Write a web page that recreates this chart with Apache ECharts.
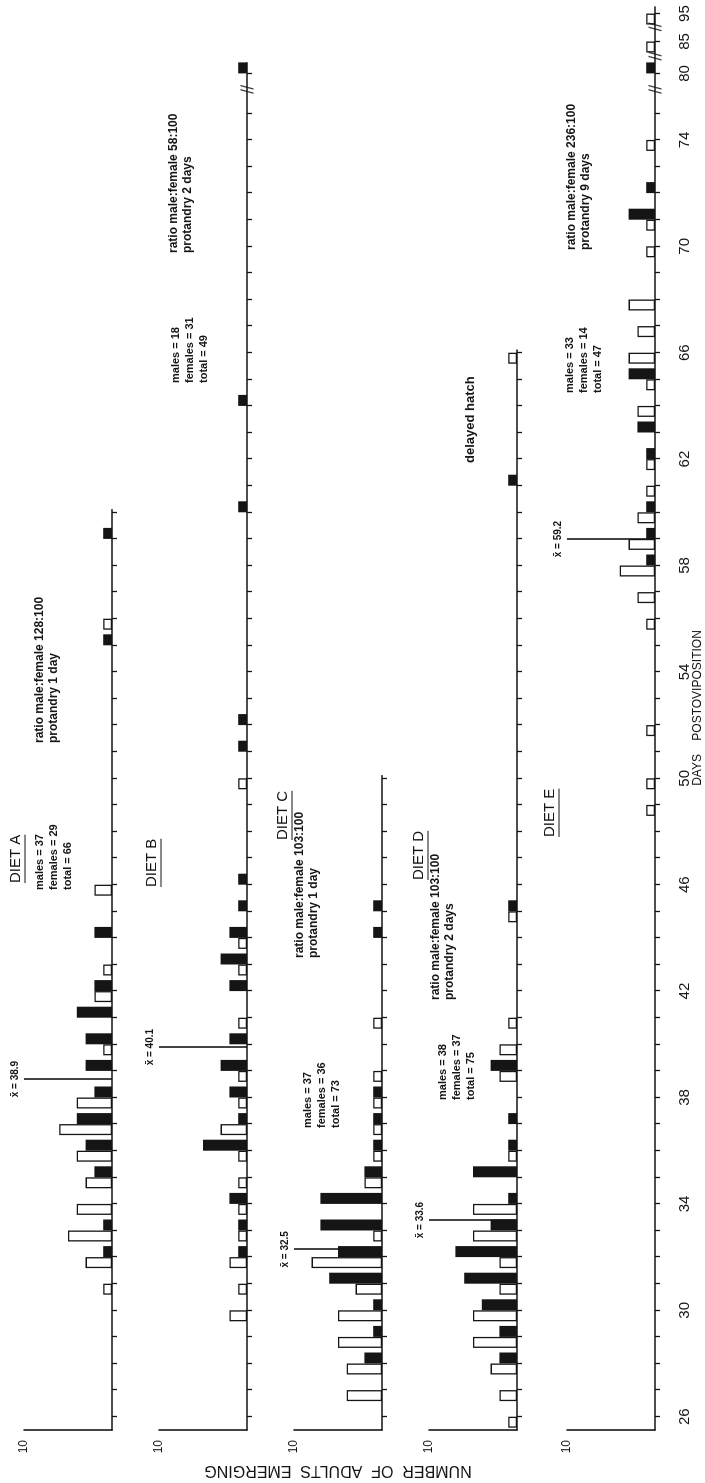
<!DOCTYPE html>
<html>
<head>
<meta charset="utf-8">
<title>Adults emerging by diet</title>
<script src="https://cdn.jsdelivr.net/npm/echarts@6.0.0/dist/echarts.min.js"></script>
<style>
  html, body { margin: 0; padding: 0; background: #fff; }
  body { width: 705px; height: 1483px; overflow: hidden; position: relative; }
  /* the figure is laid out landscape and turned a quarter-turn counter-clockwise onto the page */
  #chart { position: absolute; left: 0; top: 0; width: 1483px; height: 705px;
           transform-origin: 0 0; transform: translate(0, 1483px) rotate(-90deg); }
</style>
</head>
<body>
<div id="chart"></div>
<script>
// Adults emerging per day postoviposition: [day, number]; males drawn open, females filled
const dietA_males   = [[31,1],[32,3],[33,5],[34,4],[35,3],[36,4],[37,6],[38,4],[40,1],[42,2],[43,1],[46,2],[56,1]];
const dietA_females = [[32,1],[33,1],[35,2],[36,3],[37,4],[38,2],[39,3],[40,3],[41,4],[42,2],[44,2],[55,1],[59,1]];
const dietB_males   = [[30,2],[31,1],[32,2],[33,1],[34,1],[35,1],[36,1],[37,3],[38,1],[39,1],[41,1],[43,1],[44,1],[50,1]];
const dietB_females = [[32,1],[33,1],[34,2],[36,5],[37,1],[38,2],[39,3],[40,2],[42,2],[43,3],[44,2],[45,1],[46,1],[51,1],[52,1],[60,1],[64,1],[80,1]];
const dietC_males   = [[27,4],[28,4],[29,5],[30,5],[31,3],[32,8],[33,1],[35,2],[36,1],[37,1],[38,1],[39,1],[41,1]];
const dietC_females = [[28,2],[29,1],[30,1],[31,6],[32,5],[33,7],[34,7],[35,2],[36,1],[37,1],[38,1],[44,1],[45,1]];
const dietD_males   = [[26,1],[27,2],[28,3],[29,5],[30,5],[31,2],[32,2],[33,5],[34,5],[36,1],[39,2],[40,2],[41,1],[45,1],[66,1]];
const dietD_females = [[28,2],[29,2],[30,4],[31,6],[32,7],[33,3],[34,1],[35,5],[36,1],[37,1],[39,3],[45,1],[61,1]];
const dietE_males   = [[49,1],[50,1],[52,1],[56,1],[57,2],[58,4],[59,3],[60,2],[61,1],[62,1],[64,2],[65,1],[66,3],[67,2],[68,3],[70,1],[71,1],[74,1],[85,1],[95,1]];
const dietE_females = [[58,1],[59,1],[60,1],[62,1],[63,2],[65,3],[71,3],[72,1],[80,1]];

const dietNames     = ['DIET A', 'DIET B', 'DIET C', 'DIET D', 'DIET E'];
const meanDays      = [38.9, 40.1, 32.5, 33.6, 59.2];
const protandryDays = [1, 2, 1, 2, 9];
const dayTickLabels = [26, 30, 34, 38, 42, 46, 50, 54, 58, 62, 66, 70, 74, 80, 85, 95];
const valueMax      = 10;

const males   = [dietA_males, dietB_males, dietC_males, dietD_males, dietE_males];
const females = [dietA_females, dietB_females, dietC_females, dietD_females, dietE_females];

// ---------- layout (landscape canvas, rotated onto the page by CSS) ----------
const W = 1483, H = 705;
const INK = '#151515';
const FONT = '"Liberation Sans", Arial, sans-serif';
const PX_PER_DAY = 26.6;
const DAY_MIN = 25.5;
const AXIS_LEFT = 53;
const PANEL_H = 88;
const BASE_Y = [112, 247, 382, 517, 655];
const AXIS_END = [60.1, 76.9, 50.1, 66.1, 79.0];
const LAST_FULL_DAY = 75;
const COMPRESSED = { 80: 76.5, 85: 77.7, 95: 78.75 };   // axis positions past the breaks
const BREAK_MARKS = [75.9, 77.15, 78.25];
const BAR_W = 11;
const LINE_H = 14;

const NOTE_POS = [
  { title: [600, 16],  counts: [593, 40],  ratio: [740, 40] },
  { title: [596, 152], counts: [1100, 176], ratio: [1230, 174] },
  { title: [643, 283], counts: [355, 308], ratio: [525, 300] },
  { title: [603, 419], counts: [383, 443], ratio: [483, 436] },
  { title: [646, 550], counts: [1090, 570], ratio: [1233, 572] }
];
const HATCH_POS = [1020, 470];

function dayPos(d) { return d <= LAST_FULL_DAY ? d : COMPRESSED[d]; }
function posLabel(v) {
  for (const k in COMPRESSED) if (Math.abs(COMPRESSED[k] - v) < 1e-6) return k;
  return String(Math.round(v));
}
function total(arr) { return arr.reduce((s, p) => s + p[1], 0); }

const measureCtx = document.createElement('canvas').getContext('2d');
function textWidth(text, font) { measureCtx.font = font; return measureCtx.measureText(text).width; }

function textEl(x, y, text, font, align) {
  return {
    type: 'text', x: x, y: y, silent: true,
    style: { text: text, font: font, fill: INK,
             align: align || 'left', textAlign: align || 'left',
             verticalAlign: 'middle', textVerticalAlign: 'middle' }
  };
}

const SLASHES = 'path://M0,14L5,0L7,0L2,14Z M6,14L11,0L13,0L8,14Z';

const grids = [], xAxes = [], yAxes = [], series = [], graphics = [];

dietNames.forEach((name, i) => {
  const end = AXIS_END[i];
  grids.push({
    left: AXIS_LEFT, top: BASE_Y[i] - PANEL_H,
    width: (end - DAY_MIN) * PX_PER_DAY, height: PANEL_H,
    containLabel: false, outerBoundsMode: 'none'
  });

  const ticks = [];
  for (let d = 26; d <= Math.min(LAST_FULL_DAY, Math.floor(end)); d++) ticks.push(d);
  Object.keys(COMPRESSED).forEach(k => { if (COMPRESSED[k] <= end) ticks.push(COMPRESSED[k]); });

  xAxes.push({
    gridIndex: i, type: 'value', min: DAY_MIN, max: end,
    axisLine: { show: true, onZero: false, lineStyle: { color: INK, width: 1.6 } },
    axisTick: { show: true, customValues: ticks, length: 5, lineStyle: { color: INK, width: 1.3 } },
    axisLabel: {
      show: i === dietNames.length - 1,
      customValues: dayTickLabels.map(dayPos),
      formatter: posLabel,
      color: INK, fontSize: 15, fontFamily: FONT, margin: 22
    },
    splitLine: { show: false }
  });

  yAxes.push({
    gridIndex: i, type: 'value', min: 0, max: valueMax, interval: valueMax,
    axisLine: { show: true, lineStyle: { color: INK, width: 1.6 } },
    axisTick: { show: false },
    splitLine: { show: false },
    axisLabel: { formatter: v => (v === valueMax ? String(v) : ''), color: INK, fontSize: 12, fontFamily: FONT, margin: 10 }
  });

  series.push({
    type: 'bar', name: name + ' males', xAxisIndex: i, yAxisIndex: i,
    data: males[i].map(([d, n]) => [dayPos(d), n]),
    barWidth: BAR_W, barGap: '0%',
    itemStyle: { color: '#ffffff', borderColor: INK, borderWidth: 1.3 },
    markLine: {
      silent: true, symbol: ['none', 'none'],
      lineStyle: { color: INK, width: 1.6, type: 'solid' },
      label: {
        show: true, position: 'end', distance: 4,
        formatter: 'x\u0304 = ' + meanDays[i].toFixed(1),
        color: INK, fontSize: 10, fontWeight: 'bold', fontFamily: FONT
      },
      data: [[{ coord: [meanDays[i], 0] }, { coord: [meanDays[i], valueMax] }]]
    }
  });
  series.push({
    type: 'bar', name: name + ' females', xAxisIndex: i, yAxisIndex: i,
    data: females[i].map(([d, n]) => [dayPos(d), n]),
    barWidth: BAR_W, barGap: '0%',
    itemStyle: { color: INK }
  });

  const marks = BREAK_MARKS.filter(p => p < end);
  if (marks.length) {
    series.push({
      type: 'scatter', xAxisIndex: i, yAxisIndex: i, silent: true, clip: false, z: 5,
      data: marks.map(p => [p, 0]),
      symbol: SLASHES, symbolSize: [9, 13],
      itemStyle: { color: INK }
    });
  }

  // panel annotations
  const pos = NOTE_POS[i];
  const titleFont = '15px ' + FONT;
  graphics.push(textEl(pos.title[0], pos.title[1], name, titleFont));
  const tw = textWidth(name, titleFont);
  graphics.push({
    type: 'line', silent: true,
    shape: { x1: pos.title[0], y1: pos.title[1] + 9, x2: pos.title[0] + tw, y2: pos.title[1] + 9 },
    style: { stroke: INK, lineWidth: 1.2 }
  });

  const m = total(males[i]), f = total(females[i]);
  const countLines = ['males = ' + m, 'females = ' + f, 'total = ' + (m + f)];
  countLines.forEach((t, k) => graphics.push(textEl(pos.counts[0], pos.counts[1] + k * LINE_H, t, 'bold 11px ' + FONT)));

  const p = protandryDays[i];
  const ratioLines = ['ratio male:female ' + Math.round(100 * m / f) + ':100',
                      'protandry ' + p + (p === 1 ? ' day' : ' days')];
  ratioLines.forEach((t, k) => graphics.push(textEl(pos.ratio[0], pos.ratio[1] + k * LINE_H, t, 'bold 12px ' + FONT)));
});

graphics.push(textEl(HATCH_POS[0], HATCH_POS[1], 'delayed hatch', 'bold 13px ' + FONT));
graphics.push(textEl(775, 698, 'DAYS    POSTOVIPOSITION', '12px ' + FONT, 'center'));
const yName = textEl(13, 338, 'NUMBER  OF  ADULTS  EMERGING', '16px ' + FONT, 'center');
yName.rotation = Math.PI / 2;
graphics.push(yName);

const chart = echarts.init(document.getElementById('chart'), null, { renderer: 'canvas', width: W, height: H });
chart.setOption({
  animation: false,
  backgroundColor: '#ffffff',
  grid: grids,
  xAxis: xAxes,
  yAxis: yAxes,
  series: series,
  graphic: { elements: graphics }
});
</script>
</body>
</html>
